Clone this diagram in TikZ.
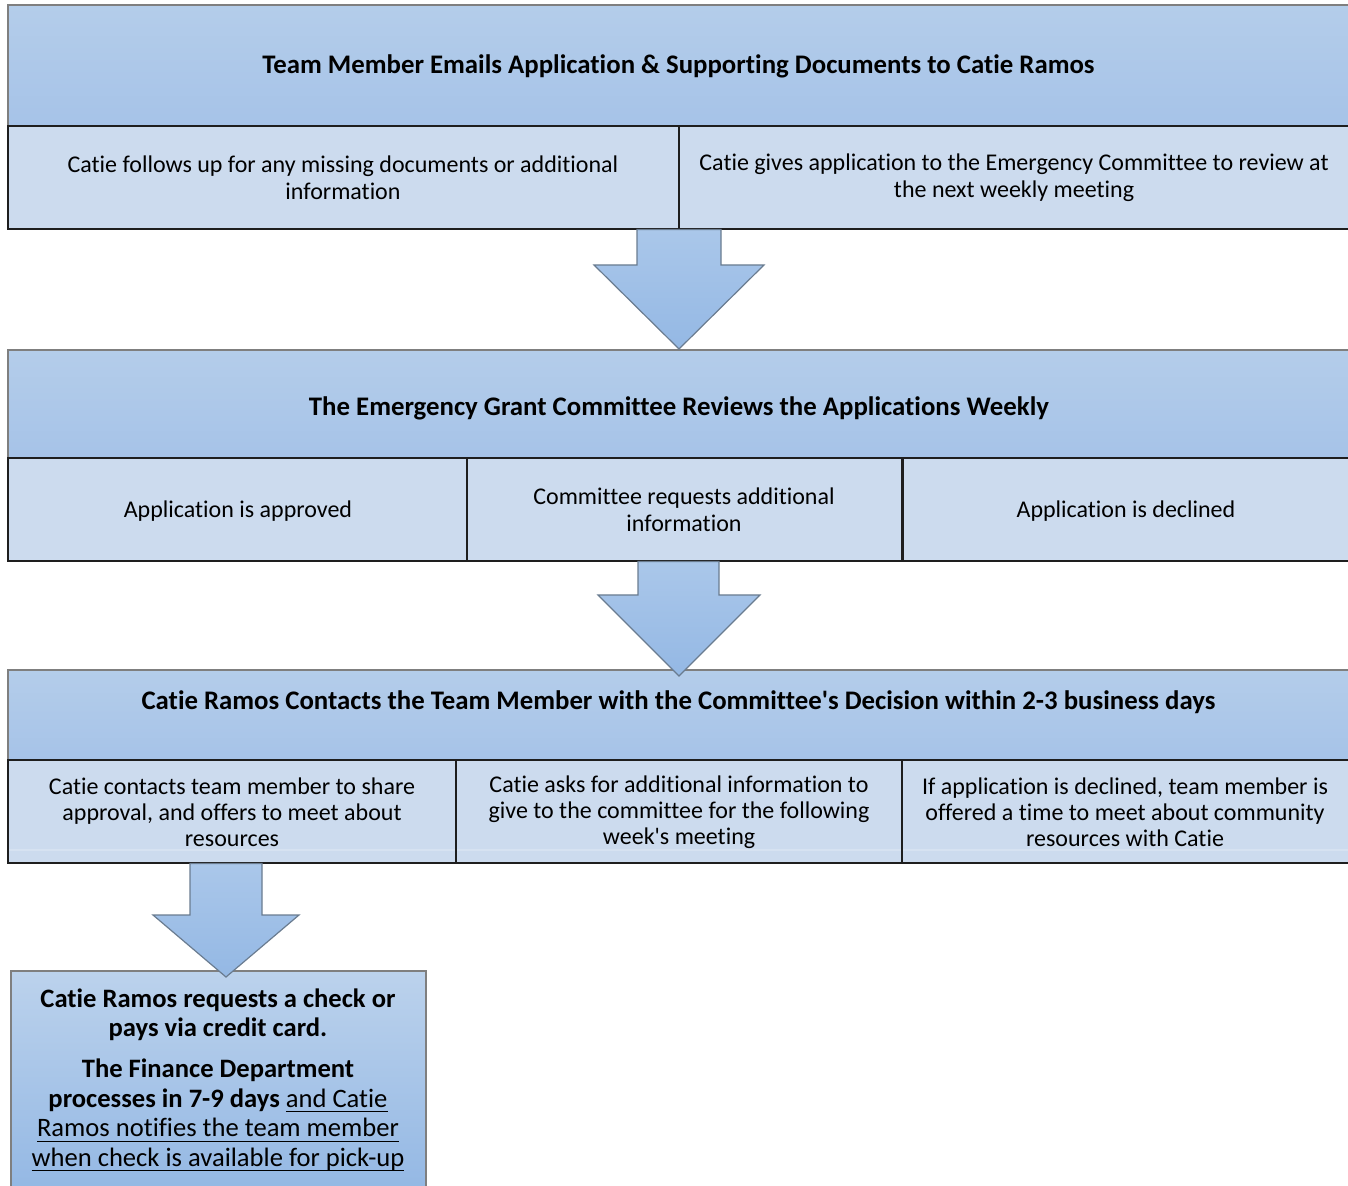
\documentclass[tikz,border=0pt]{standalone}
\usepackage{fontspec}
\setmainfont{Carlito}[Ligatures={TeXOff,NoCommon}]
\newcommand\myuline[1]{\setbox0\hbox{#1}\rlap{\rule[-2.4pt]{\wd0}{0.55pt}}\box0}
\definecolor{hdtop}{HTML}{B4CDEA}
\definecolor{hdbot}{HTML}{A6C3E8}
\definecolor{subfill}{HTML}{CCDBEE}
\definecolor{arrtop}{HTML}{AAC7EA}
\definecolor{arrbot}{HTML}{94B8E4}
\definecolor{hdline}{HTML}{7F7F7F}
\definecolor{subline}{HTML}{1E1E1E}
\definecolor{arrline}{HTML}{6A7C90}
\begin{document}
\begin{tikzpicture}[x=0.5pt,y=-0.5pt,
  hdbox/.style={rectangle,draw=hdline,line width=0.6pt,top color=hdtop,bottom color=hdbot,inner sep=0pt},
  subbox/.style={rectangle,draw=subline,line width=0.8pt,fill=subfill,inner sep=0pt},
  hdtext/.style={font=\fontsize{13.4}{16}\selectfont\bfseries,align=center,inner sep=0pt},
  subtext/.style={font=\fontsize{12}{13.5}\selectfont,align=center,inner sep=0pt},
  faint/.style={color=white!20!subfill,line width=0.6pt},
  blockarrow/.style={draw=arrline,line width=0.6pt,top color=arrtop,bottom color=arrbot}]
\useasboundingbox (0,0) rectangle (1348,1186);
\begin{scope}
\clip (0,0) rectangle (1348,1186);
% Section 1
\node[hdbox,minimum width=670.5pt,minimum height=60.5pt] (h1) at (678.5,65.5) {};
\node[subbox,minimum width=335.5pt,minimum height=51.5pt] (s1a) at (343.5,177.5) {};
\node[subbox,minimum width=335pt,minimum height=51.5pt] (s1b) at (1014,177.5) {};
\node[hdtext] (h1t) at (678.5,66) {Team Member Emails Application \& Supporting Documents to Catie Ramos};
\node[subtext] (s1at) at (343,178) {Catie follows up for any missing documents or additional\\information};
\node[subtext] (s1bt) at (1014,178) {Catie gives application to the Emergency Committee to review at\\the next weekly meeting};
% Section 2
\node[hdbox,minimum width=670.5pt,minimum height=54pt] (h2) at (678.5,404) {};
\node[subbox,minimum width=229.5pt,minimum height=51.5pt] (s2a) at (237.5,509.5) {};
\node[subbox,minimum width=217.5pt,minimum height=51.5pt] (s2b) at (684.5,509.5) {};
\node[subbox,minimum width=223pt,minimum height=51.5pt] (s2c) at (1126,509.5) {};
\node[hdtext] (h2t) at (679,408) {The Emergency Grant Committee Reviews the Applications Weekly};
\node[subtext] (s2at) at (238,511) {Application is approved};
\node[subtext] (s2bt) at (684,510) {Committee requests additional\\information};
\node[subtext] (s2ct) at (1126,511) {Application is declined};
% Section 3
\node[hdbox,minimum width=670.5pt,minimum height=45pt] (h3) at (678.5,715) {};
\node[subbox,minimum width=224pt,minimum height=51.5pt] (s3a) at (232,811.5) {};
\node[subbox,minimum width=223pt,minimum height=51.5pt] (s3b) at (679,811.5) {};
\node[subbox,minimum width=223.5pt,minimum height=51.5pt] (s3c) at (1125.5,811.5) {};
\draw[faint] ([xshift=1pt]s3a.west |- 0,850) -- ([xshift=-1pt]s3a.east |- 0,850);
\draw[faint] ([xshift=1pt]s3b.west |- 0,850) -- ([xshift=-1pt]s3b.east |- 0,850);
\draw[faint] ([xshift=1pt]s3c.west |- 0,850) -- ([xshift=-1pt]s3c.east |- 0,850);
\node[hdtext] (h3t) at (678.5,702) {Catie Ramos Contacts the Team Member with the Committee's Decision within 2-3 business days};
\node[subtext,font=\fontsize{12}{13}\selectfont] (s3at) at (232,812) {Catie contacts team member to share\\approval, and offers to meet about\\resources};
\node[subtext,font=\fontsize{12}{13}\selectfont] (s3bt) at (679,812) {Catie asks for additional information to\\give to the committee for the following\\week's meeting};
\node[subtext,font=\fontsize{12}{13}\selectfont] (s3ct) at (1125,812) {If application is declined, team member is\\offered a time to meet about community\\resources with Catie};
% Bottom box
\node[hdbox,minimum width=207.5pt,minimum height=109.5pt,top color=hdtop!90!white,bottom color=arrbot] (b1) at (218.5,1080.5) {};
\node[subtext,font=\fontsize{13.3}{14.75}\selectfont] (b1t) at (218,1080) {\textbf{Catie Ramos requests a check or}\\\textbf{pays via credit card.}\\[5.75pt]\textbf{The Finance Department}\\\textbf{processes in 7-9 days} \myuline{and Catie}\\\myuline{Ramos notifies the team member}\\\myuline{when check is available for pick-up}};
% Block arrows
\draw[blockarrow] (637,229.5) -- (721,229.5) -- (721,265) -- (764,265) -- (679,349) -- (594,265) -- (637,265) -- cycle;
\draw[blockarrow] (638,561.5) -- (719,561.5) -- (719,595) -- (760,595) -- (679,676) -- (598,595) -- (638,595) -- cycle;
\draw[blockarrow] (190,863.5) -- (262,863.5) -- (262,915) -- (299,915) -- (226,977) -- (153,915) -- (190,915) -- cycle;
\end{scope}
\end{tikzpicture}
\end{document}
